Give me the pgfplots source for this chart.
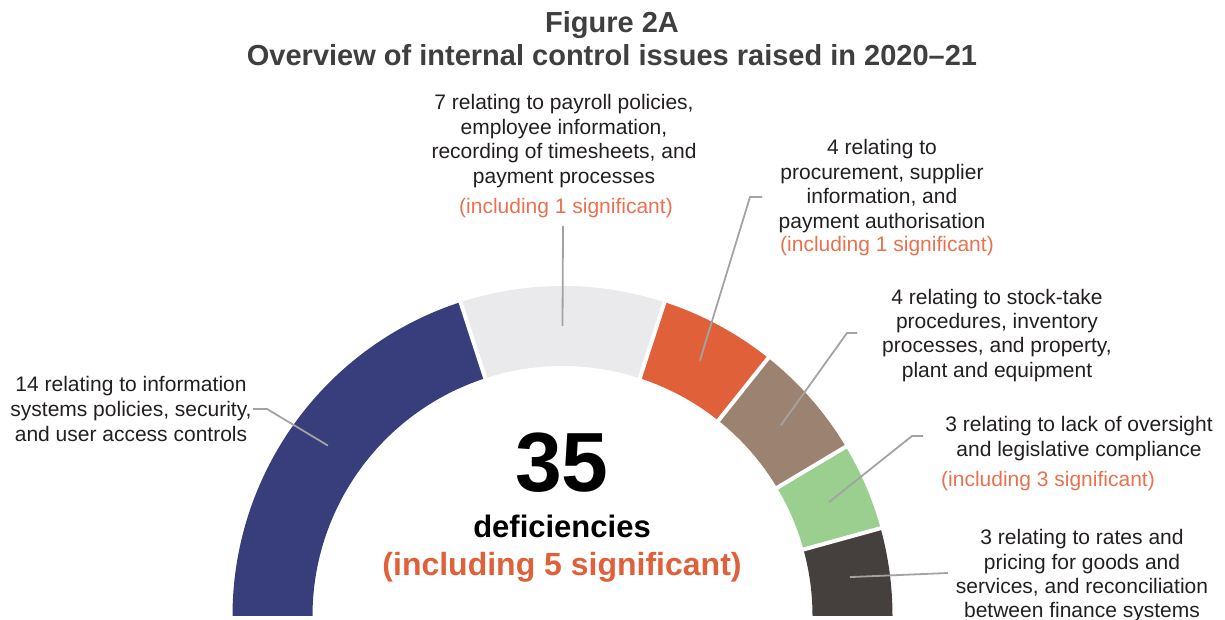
\documentclass[border=0pt]{standalone}
\usepackage{fontspec}
\setmainfont{Liberation Sans}
\usepackage{pgfplots}
\usepackage{pgfplotstable}
\pgfplotsset{compat=1.18}
\definecolor{cnavy}{HTML}{373E7B}
\definecolor{clgray}{HTML}{EAEAEC}
\definecolor{corange}{HTML}{E0603A}
\definecolor{cbrown}{HTML}{9C8271}
\definecolor{cgreen}{HTML}{9ACF8F}
\definecolor{cdark}{HTML}{453F3E}
\definecolor{ctext}{HTML}{231F20}
\definecolor{ctitle}{HTML}{3F3F3F}
\definecolor{clead}{HTML}{A3A3A3}
\definecolor{csig}{HTML}{E8714F}

\pgfplotstableread{
value color
14 cnavy
7 clgray
4 corange
4 cbrown
3 cgreen
3 cdark
}\segtable

\newcommand\body{\fontsize{21}{24}\selectfont}
\newcommand\ttl{\fontsize{29}{33}\selectfont\bfseries}

% total and segment angles from the table
\def\segtot{0}
\pgfplotsforeachungrouped \i in {0,...,5}{%
  \pgfplotstablegetelem{\i}{value}\of\segtable
  \pgfmathsetmacro\segtot{\segtot+\pgfplotsretval}%
}
\def\segcum{0}
\pgfplotsforeachungrouped \i in {0,...,5}{%
  \pgfplotstablegetelem{\i}{value}\of\segtable
  \let\segval\pgfplotsretval
  \pgfmathsetmacro\segstart{180-180*\segcum/\segtot}%
  \pgfmathsetmacro\segcum{\segcum+\segval}%
  \pgfmathsetmacro\segstop{180-180*\segcum/\segtot}%
  \pgfmathsetmacro\segmidd{(\segstart+\segstop)/2}%
  \expandafter\xdef\csname segA\i\endcsname{\segstart}%
  \expandafter\xdef\csname segB\i\endcsname{\segstop}%
  \expandafter\xdef\csname segM\i\endcsname{\segmidd}%
  \pgfplotstablegetelem{\i}{color}\of\segtable
  \expandafter\xdef\csname segC\i\endcsname{\pgfplotsretval}%
}
\newcommand\leader[2]{%
  \edef\tmp{\noexpand\draw[clead, line width=1.8pt] #2 -- ([shift={(\csname segM#1\endcsname:290pt)}]O);}\tmp}

\begin{document}%
\begin{tikzpicture}
\begin{axis}[x=1pt, y=1pt, xmin=0, xmax=1225, ymin=0, ymax=620,
  hide axis, clip=false]
\addplot[draw=none] coordinates {(0,0) (1225,620)};
\coordinate (O) at (axis cs:562.5,4);
\pgfplotsinvokeforeach{0,...,5}{%
  \edef\tmp{\noexpand\fill[fill=\csname segC#1\endcsname]
    ([shift={(\csname segA#1\endcsname:330pt)}]O)
    arc[start angle=\csname segA#1\endcsname, end angle=\csname segB#1\endcsname, radius=330pt]
    -- ([shift={(\csname segB#1\endcsname:250pt)}]O)
    arc[start angle=\csname segB#1\endcsname, end angle=\csname segA#1\endcsname, radius=250pt]
    -- cycle;}\tmp
}
\pgfplotsinvokeforeach{0,...,4}{%
  \edef\tmp{\noexpand\draw[white, line width=4pt]
    ([shift={(\csname segB#1\endcsname:244pt)}]O) -- ([shift={(\csname segB#1\endcsname:336pt)}]O);}\tmp
}
% leader lines
\leader{0}{(axis cs:253,211) -- (axis cs:267,211)}
\leader{1}{(axis cs:563,394)}
\leader{2}{(axis cs:762,423) -- (axis cs:750,423)}
\leader{3}{(axis cs:857,287) -- (axis cs:847,287)}
\leader{4}{(axis cs:923,184) -- (axis cs:912,184)}
\leader{5}{(axis cs:948,47)}
% title
\node[anchor=base, text=ctitle, font=\ttl] at (axis cs:612,587) {Figure 2A};
\node[anchor=base, text=ctitle, font=\ttl] at (axis cs:612,554) {Overview of internal control issues raised in 2020–21};
% centre
\node[anchor=base, text=black, font=\fontsize{84}{90}\selectfont\bfseries] at (axis cs:562,128) {35};
\node[anchor=base, text=black, font=\fontsize{31}{36}\selectfont\bfseries] at (axis cs:562,82) {deficiencies};
\node[anchor=base, text=corange, font=\fontsize{32}{36}\selectfont\bfseries] at (axis cs:562,44) {(including 5 significant)};
% navy label
\node[anchor=base, text=ctext, font=\body] at (axis cs:131,228) {14 relating to information};
\node[anchor=base, text=ctext, font=\body] at (axis cs:131,203) {systems policies, security,};
\node[anchor=base, text=ctext, font=\body] at (axis cs:131,178) {and user access controls};
% gray label
\node[anchor=base, text=ctext, font=\body] at (axis cs:564,510) {7 relating to payroll policies,};
\node[anchor=base, text=ctext, font=\body] at (axis cs:564,485) {employee information,};
\node[anchor=base, text=ctext, font=\body] at (axis cs:564,461) {recording of timesheets, and};
\node[anchor=base, text=ctext, font=\body] at (axis cs:564,436) {payment processes};
\node[anchor=base, text=csig, font=\body] at (axis cs:566,406) {(including 1 significant)};
% orange label
\node[anchor=base, text=ctext, font=\body] at (axis cs:882,465) {4 relating to};
\node[anchor=base, text=ctext, font=\body] at (axis cs:882,440) {procurement, supplier};
\node[anchor=base, text=ctext, font=\body] at (axis cs:882,416) {information, and};
\node[anchor=base, text=ctext, font=\body] at (axis cs:882,391) {payment authorisation};
\node[anchor=base, text=csig, font=\body] at (axis cs:887,368) {(including 1 significant)};
% brown label
\node[anchor=base, text=ctext, font=\body] at (axis cs:997,315) {4 relating to stock-take};
\node[anchor=base, text=ctext, font=\body] at (axis cs:997,291) {procedures, inventory};
\node[anchor=base, text=ctext, font=\body] at (axis cs:997,267) {processes, and property,};
\node[anchor=base, text=ctext, font=\body] at (axis cs:997,242) {plant and equipment};
% green label
\node[anchor=base, text=ctext, font=\body] at (axis cs:1079,188) {3 relating to lack of oversight};
\node[anchor=base, text=ctext, font=\body] at (axis cs:1079,163) {and legislative compliance};
\node[anchor=base, text=csig, font=\body] at (axis cs:1048,133) {(including 3 significant)};
% dark label
\node[anchor=base, text=ctext, font=\body] at (axis cs:1082,75) {3 relating to rates and};
\node[anchor=base, text=ctext, font=\body] at (axis cs:1082,50) {pricing for goods and};
\node[anchor=base, text=ctext, font=\body] at (axis cs:1082,26) {services, and reconciliation};
\node[anchor=base, text=ctext, font=\body] at (axis cs:1082,2) {between finance systems};
\end{axis}
\pgfresetboundingbox
\path[use as bounding box] (current axis.south west) rectangle (current axis.north east);
\end{tikzpicture}%
\end{document}
